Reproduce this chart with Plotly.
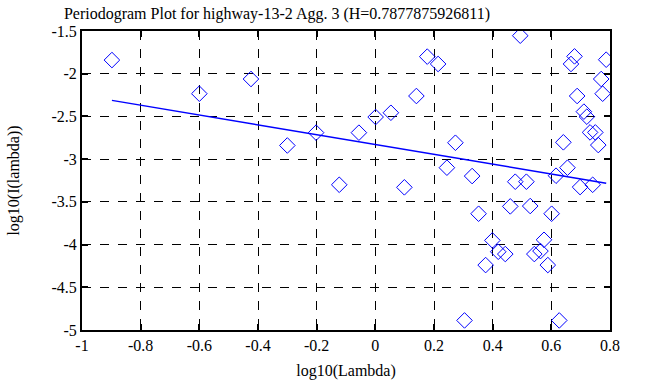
import plotly.graph_objects as go
import numpy as np

x_vals = [-0.898, -0.600, -0.424, -0.300, -0.202, -0.123, -0.056, 0.001, 0.053, 0.099,
          0.140, 0.177, 0.214, 0.244, 0.273, 0.330, 0.304, 0.352, 0.376, 0.399,
          0.419, 0.443, 0.460, 0.477, 0.494, 0.515, 0.528, 0.542, 0.563, 0.575,
          0.588, 0.601, 0.616, 0.627, 0.641, 0.655, 0.667, 0.679, 0.688, 0.698,
          0.711, 0.721, 0.732, 0.741, 0.750, 0.760, 0.770, 0.775, 0.787]
y_vals = [-1.84, -2.234, -2.062, -2.84, -2.69, -3.30, -2.69, -2.507, -2.457, -3.33,
          -2.261, -1.80, -1.886, -3.10, -2.808, -3.198, -4.888, -3.639, -4.240, -3.951,
          -4.084, -4.111, -3.553, -3.264, -1.555, -3.264, -3.549, -4.111, -4.076, -3.944,
          -4.240, -3.639, -3.194, -4.888, -2.803, -3.10, -1.886, -1.797, -2.261, -3.327,
          -2.444, -2.503, -2.687, -3.30, -2.687, -2.835, -2.062, -2.234, -1.836]

fit_slope = -0.5756
fit_intercept = -2.829

x_ticks = [-1, -0.8, -0.6, -0.4, -0.2, 0, 0.2, 0.4, 0.6, 0.8]
y_ticks = [-1.5, -2, -2.5, -3, -3.5, -4, -4.5, -5]

fx = np.array([min(x_vals), max(x_vals)])
fy = fit_intercept + fit_slope * fx

fig = go.Figure()
fig.add_trace(go.Scatter(x=x_vals, y=y_vals, mode="markers",
                         marker=dict(symbol="diamond-open", size=12, color="#0000ff",
                                     line=dict(width=1, color="#0000ff")),
                         showlegend=False))
fig.add_trace(go.Scatter(x=fx, y=fy, mode="lines", line=dict(color="#0000ff", width=1.5),
                         showlegend=False))

font = dict(family="Liberation Serif", size=16, color="black")
axis_common = dict(showgrid=True, gridcolor="black", griddash="dash", gridwidth=1,
                   showline=True, linecolor="black", linewidth=2, mirror="ticks",
                   ticks="inside", ticklen=6, tickwidth=2, tickcolor="black",
                   zeroline=False, tickfont=font, automargin=False)
fig.update_xaxes(range=[-1, 0.8], tickvals=x_ticks, ticktext=[f"{v:g}" for v in x_ticks],
                 title=dict(text="log10(Lambda)", font=font, standoff=12), **axis_common)
fig.update_yaxes(range=[-5, -1.5], tickvals=y_ticks, ticktext=[f"{v:g}" for v in y_ticks],
                 title=dict(text="log10(I(lambda))", font=font, standoff=28), **axis_common)
fig.update_layout(width=653, height=387, margin=dict(l=82, r=43, t=31, b=57),
                  paper_bgcolor="white", plot_bgcolor="white", font=font,
                  title=dict(text="Periodogram Plot for highway-13-2 Agg. 3 (H=0.7877875926811)",
                             x=277/653, xanchor="center", y=1 - 13/387, yanchor="middle",
                             font=font))
fig.write_html("out.html", config={"displayModeBar": False},
               post_script="document.body.style.margin='0';document.body.style.overflow='hidden';")
